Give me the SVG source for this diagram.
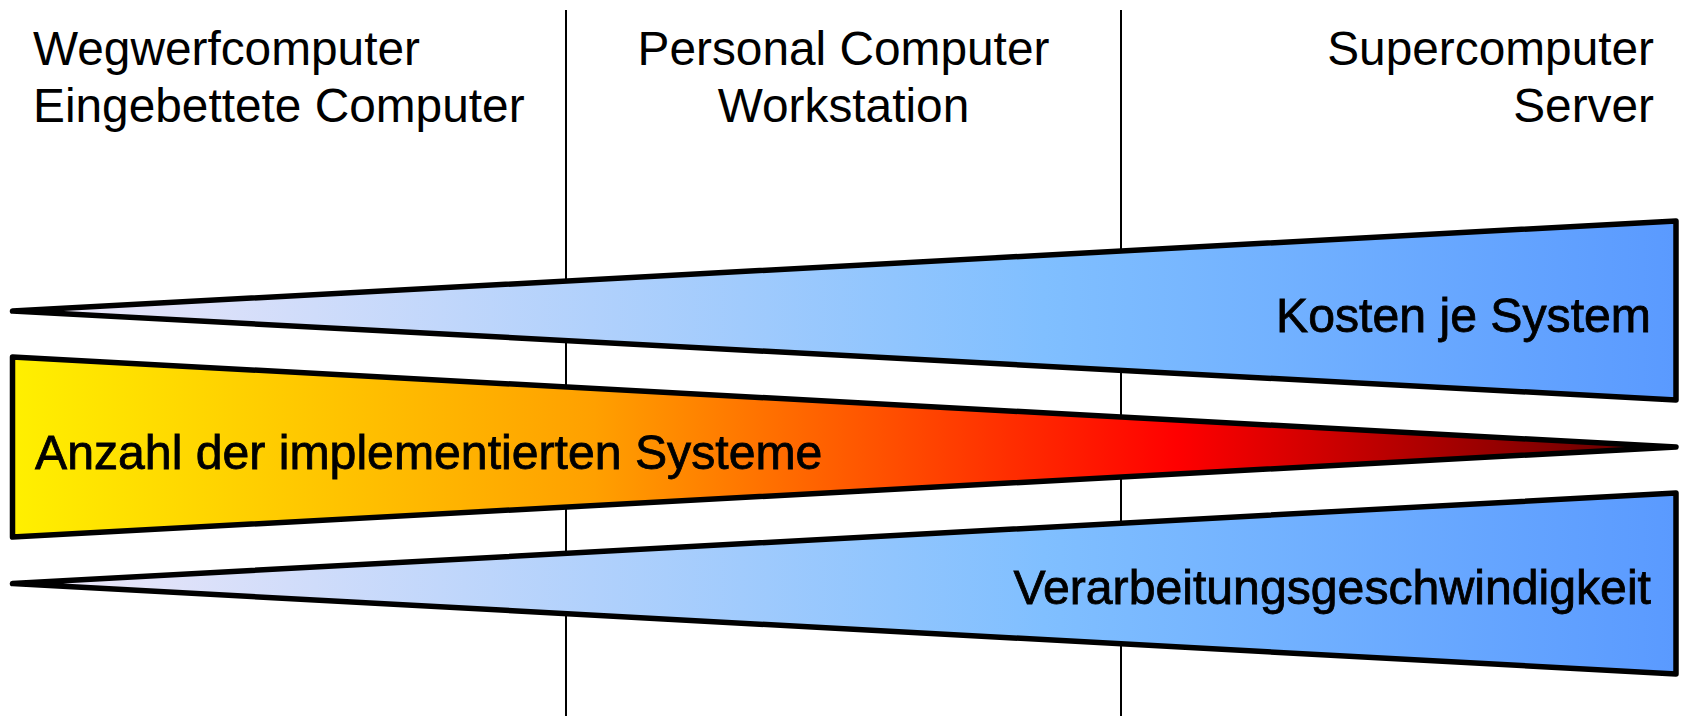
<svg xmlns="http://www.w3.org/2000/svg" width="1681" height="716" viewBox="0 0 1681 716">
<defs>
<style>
.hdr{font-family:"Liberation Sans",Arial,sans-serif;font-size:47.8px;fill:#000}
.lbl{font-family:"Liberation Sans",Arial,sans-serif;font-size:48.2px;fill:#000;stroke:#000;stroke-width:0.8px}
.wedge{stroke:#000;stroke-width:5.5;stroke-linejoin:round}
.sep{stroke:#000;stroke-width:2;fill:none}
</style>
<linearGradient id="blue" gradientUnits="userSpaceOnUse" x1="12" y1="0" x2="1676" y2="0">
<stop offset="0" stop-color="#f0e8f8"/>
<stop offset="0.62" stop-color="#80bfff"/>
<stop offset="1" stop-color="#5a9aff"/>
</linearGradient>
<linearGradient id="warm" gradientUnits="userSpaceOnUse" x1="12" y1="0" x2="1676" y2="0">
<stop offset="0" stop-color="#fff000"/>
<stop offset="0.35" stop-color="#ffa000"/>
<stop offset="0.7" stop-color="#ff0000"/>
<stop offset="1" stop-color="#5a0000"/>
</linearGradient>
</defs>
<rect width="1681" height="716" fill="#fff"/>
<g id="separators">
<line class="sep" x1="566" y1="10" x2="566" y2="716"/>
<line class="sep" x1="1121" y1="10" x2="1121" y2="716"/>
</g>
<g id="headers">
<text class="hdr" x="33" y="65">Wegwerfcomputer</text>
<text class="hdr" x="33" y="122">Eingebettete Computer</text>
<text class="hdr" x="843.5" y="65" text-anchor="middle">Personal Computer</text>
<text class="hdr" x="843.5" y="122" text-anchor="middle">Workstation</text>
<text class="hdr" x="1654" y="65" text-anchor="end">Supercomputer</text>
<text class="hdr" x="1654" y="122" text-anchor="end">Server</text>
</g>
<g id="kosten">
<polygon class="wedge" fill="url(#blue)" points="12.5,311 1676,221 1676,400"/>
<text class="lbl" x="1651" y="332" text-anchor="end">Kosten je System</text>
</g>
<g id="anzahl">
<polygon class="wedge" fill="url(#warm)" points="12.5,357 1676,447 12.5,537"/>
<text class="lbl" x="35" y="469">Anzahl der implementierten Systeme</text>
</g>
<g id="verarbeitung">
<polygon class="wedge" fill="url(#blue)" points="12.5,583.5 1676,493 1676,674"/>
<text class="lbl" x="1651" y="604" text-anchor="end">Verarbeitungsgeschwindigkeit</text>
</g>
</svg>
